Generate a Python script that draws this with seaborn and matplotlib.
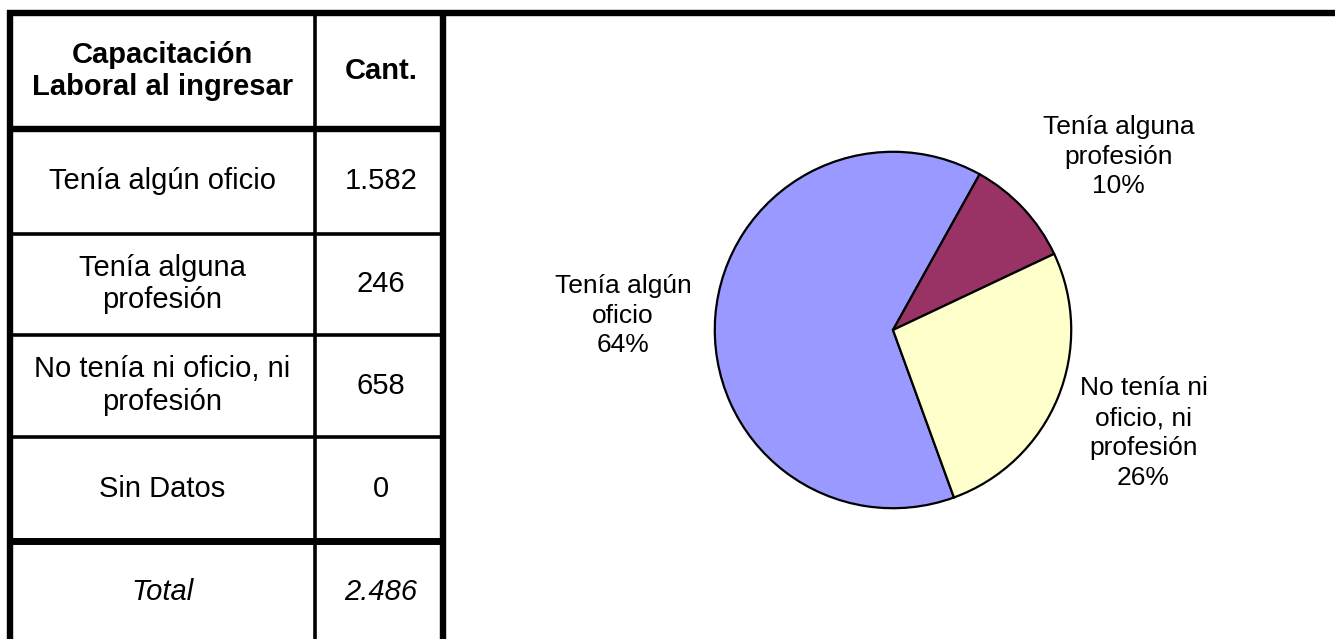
import numpy as np
import matplotlib.pyplot as plt
import seaborn as sns

# datos
encabezado = ["Capacitación\nLaboral al ingresar", "Cant."]
categorias = ["Tenía algún oficio", "Tenía alguna\nprofesión",
              "No tenía ni oficio, ni\nprofesión", "Sin Datos"]
cantidades = [1582, 246, 658, 0]
etiquetas_torta = ["Tenía algún\noficio", "Tenía alguna\nprofesión",
                   "No tenía ni\noficio, ni\nprofesión", "Sin Datos"]
colores = ["#9999FF", "#993366", "#FFFFCC", "#FFFFFF"]


def miles(n):
    return f"{n:,}".replace(",", ".")


sns.set_theme(style="white")
plt.rcParams['font.family'] = ['Liberation Sans', 'DejaVu Sans']
plt.rcParams['text.color'] = 'black'

W, H = 1335, 639
fig = plt.figure(figsize=(W / 100, H / 100), dpi=100)

# Tabla (coordenadas en pixeles)
tab = fig.add_axes([0, 0, 1, 1])
tab.set_xlim(0, W)
tab.set_ylim(H, 0)
tab.axis('off')

x_izq, x_div, x_der = 10, 314.5, 443
y_top = 13
bordes = [129, 233.5, 334.5, 436.5, 541, 643]
grosor = [4.6, 2.6, 2.6, 2.6, 5.0]

tab.plot([7, W], [y_top, y_top], color='black', lw=4.6, solid_capstyle='butt')
tab.plot([x_izq, x_izq], [10, H], color='black', lw=4.6, solid_capstyle='butt')
tab.plot([x_der, x_der], [10, H], color='black', lw=4.6, solid_capstyle='butt')
tab.plot([x_div, x_div], [y_top, H], color='black', lw=2.6, solid_capstyle='butt')
for y, lw in zip(bordes[:-1], grosor):
    tab.plot([x_izq, x_der], [y, y], color='black', lw=lw, solid_capstyle='butt')

cx1 = (x_izq + x_div) / 2
cx2 = (x_div + x_der) / 2 + 2
fs = 21
ls = 1.2

y_enc = (y_top + bordes[0]) / 2
tab.text(cx1, y_enc, encabezado[0], ha='center', va='center', fontsize=fs,
         fontweight='bold', linespacing=ls)
tab.text(cx2, y_enc, encabezado[1], ha='center', va='center', fontsize=fs,
         fontweight='bold')

for i, (cat, n) in enumerate(zip(categorias, cantidades)):
    yc = (bordes[i] + bordes[i + 1]) / 2
    tab.text(cx1, yc, cat, ha='center', va='center', fontsize=fs, linespacing=ls)
    tab.text(cx2, yc, miles(n), ha='center', va='center', fontsize=fs)

y_tot = (bordes[-2] + bordes[-1]) / 2
tab.text(cx1, y_tot, "Total", ha='center', va='center', fontsize=fs, style='italic')
tab.text(cx2, y_tot, miles(sum(cantidades)), ha='center', va='center',
         fontsize=fs, style='italic')

# Torta
cx, cy, r = 893, 330, 180
ax = fig.add_axes([(cx - r) / W, (H - cy - r) / H, 2 * r / W, 2 * r / H])
total = sum(cantidades)
vals = [v for v in cantidades if v > 0]
labs = [f"{l}\n{v / total * 100:.0f}%" for l, v in zip(etiquetas_torta, cantidades) if v > 0]
pal = sns.color_palette([c for c, v in zip(colores, cantidades) if v > 0])

wedges, textos = ax.pie(vals, labels=labs, colors=pal, startangle=290,
                        counterclock=False, labeldistance=1.52,
                        wedgeprops=dict(edgecolor='black', linewidth=1.6),
                        textprops=dict(fontsize=19, ha='center', va='center',
                                       linespacing=1.3, color='black'))
# ajuste fino de la posicion de las etiquetas (en radios)
desplazamientos = [(0.0, -0.04), (0.155, -0.065), (0.0, 0.0)]
for t, (dx, dy) in zip(textos, desplazamientos):
    x, y = t.get_position()
    t.set_position((x + dx, y + dy))

ax.set_xlim(-1.01, 1.01)
ax.set_ylim(-1.01, 1.01)
ax.set_aspect('equal')

fig.savefig('out.png', dpi=100)
